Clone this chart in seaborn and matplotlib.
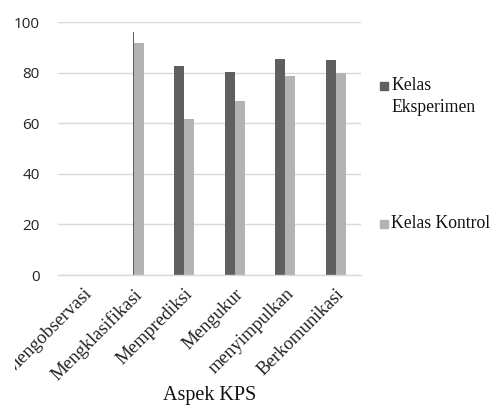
import matplotlib
matplotlib.use("Agg")
import matplotlib.pyplot as plt
from matplotlib.patches import Rectangle
from matplotlib.transforms import Bbox
import seaborn as sns
import pandas as pd

aspek = ["Mengobservasi", "Mengklasifikasi", "Memprediksi", "Mengukur",
         "menyimpulkan", "Berkomunikasi"]
eksperimen = [0, 96.2, 82.6, 80.4, 85.5, 85.0]
kontrol = [0, 91.8, 61.5, 68.8, 78.7, 79.8]
kelas = ["Kelas Eksperimen", "Kelas Kontrol"]
y_ticks = [0, 20, 40, 60, 80, 100]

dark = "#5f5f5f"
light = "#b3b3b3"
grid = "#d9d9d9"
serif = "Liberation Serif"

df = pd.DataFrame({
    "aspek": aspek * 2,
    "nilai": eksperimen + kontrol,
    "kelas": [kelas[0]] * len(aspek) + [kelas[1]] * len(aspek),
})

sns.set_theme(style="white")
W, H = 494, 412
fig = plt.figure(figsize=(W / 100, H / 100), dpi=100)
ax = fig.add_axes([0.1174, 0.3325, 0.6134, 0.6141])

sns.barplot(data=df, x="aspek", y="nilai", hue="kelas",
            palette=[dark, light], width=0.4, saturation=1,
            legend=False, ax=ax, errorbar=None)

# the Mengklasifikasi Eksperimen bar is rendered as a hairline
p = ax.patches[1]
right = p.get_x() + p.get_width()
p.set_width(0.02)
p.set_x(right - 0.02)
for q in ax.patches:
    q.set_linewidth(0)

ax.set_ylim(0, 100)
ax.set_xlim(-0.5, len(aspek) - 0.5)
ax.set_yticks(y_ticks)
ax.yaxis.grid(True, color=grid, linewidth=1)
ax.set_axisbelow(True)
for s in ["top", "right", "left"]:
    ax.spines[s].set_visible(False)
ax.spines["bottom"].set_color(grid)
ax.spines["bottom"].set_linewidth(1)
ax.tick_params(axis="both", length=0)
ax.tick_params(axis="y", pad=13)
for t in ax.get_yticklabels():
    t.set_fontfamily("Open Sans")
    t.set_fontsize(11)
    t.set_color("#222222")

ax.set_xticks(range(len(aspek)))
ax.set_xticklabels(aspek, rotation=45, ha="right", rotation_mode="anchor",
                   fontfamily=serif, fontsize=13.5, color="#222222")
ax.tick_params(axis="x", pad=7.5)
# the chart area cuts off the far-left category label
for t in ax.get_xticklabels():
    t.set_clip_box(Bbox.from_extents(15, 0, W, H))
    t.set_clip_on(True)

ax.set_ylabel("")
ax.set_xlabel("Aspek KPS", fontfamily=serif, fontsize=14.5,
              color="#111111", labelpad=1.5)

# legend on the right
FS = 12.7

def square(x, y, color):
    fig.patches.append(Rectangle((x / W, 1 - (y + 4) / H), 8 / W, 8 / H,
                                 transform=fig.transFigure, color=color))

def label(x, y, text):
    fig.text(x / W, 1 - y / H, text, fontfamily=serif, fontsize=FS,
             va="center", ha="left", color="#111111")

square(380, 86, dark)
label(391, 86, "Kelas")
label(391, 108, "Eksperimen")
square(380, 224, light)
label(391, 224, "Kelas Kontrol")

fig.savefig("out.png", dpi=100, facecolor="white")
